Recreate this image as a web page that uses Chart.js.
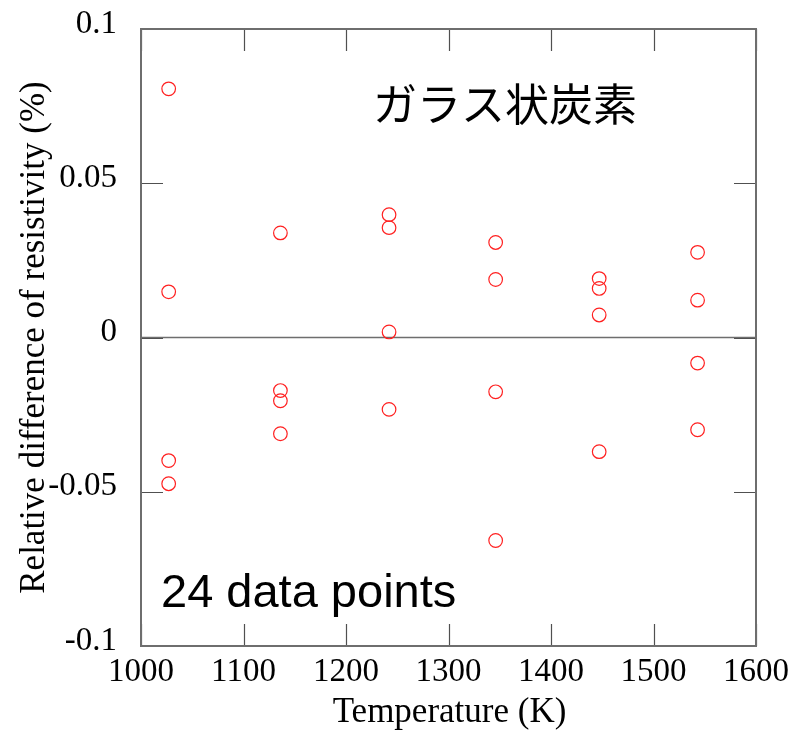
<!DOCTYPE html>
<html>
<head>
<meta charset="utf-8">
<script src="https://cdn.jsdelivr.net/npm/chart.js@4"></script>
<style>
  html, body { margin: 0; padding: 0; background: #ffffff; }
  #wrap { width: 794px; height: 730px; }
</style>
</head>
<body>
<div id="wrap"><canvas id="c" width="794" height="730"></canvas></div>
<script>
// Measurement temperatures (K)
const temperatures = [1027, 1136, 1242, 1346, 1447, 1543];
// Relative difference of resistivity (%) measured at each temperature
const diffAt1027 = [0.0806, 0.0148, -0.0399, -0.0474];
const diffAt1136 = [0.0339, -0.0172, -0.0205, -0.0312];
const diffAt1242 = [0.0398, 0.0356, 0.0018, -0.0233];
const diffAt1346 = [0.0308, 0.0188, -0.0176, -0.0658];
const diffAt1447 = [0.0191, 0.0159, 0.0073, -0.0370];
const diffAt1543 = [0.0276, 0.0121, -0.0083, -0.0299];
// Axis ticks
const xTicks = [1000, 1100, 1200, 1300, 1400, 1500, 1600];
const yTicks = [-0.1, -0.05, 0, 0.05, 0.1];

const materialLabel = 'ガラス状炭素';
const countLabel = '24 data points';
const xTitle = 'Temperature (K)';
const yTitle = 'Relative difference of resistivity (%)';

const groups = [diffAt1027, diffAt1136, diffAt1242, diffAt1346, diffAt1447, diffAt1543];
const points = [];
groups.forEach((vals, i) => vals.forEach(v => points.push({ x: temperatures[i], y: v })));

const SERIF = '"Liberation Serif", "Times New Roman", serif';
const TICK_LEN = 22;

// Frame, inward ticks on all four sides, zero line and text annotations
const decorations = {
  id: 'decorations',
  beforeDatasetsDraw(chart) {
    const { ctx, chartArea: a, scales: { x, y } } = chart;
    ctx.save();
    // zero line
    const y0 = y.getPixelForValue(0);
    ctx.strokeStyle = '#6e6e6e';
    ctx.lineWidth = 1.6;
    ctx.beginPath();
    ctx.moveTo(a.left, y0);
    ctx.lineTo(a.right, y0);
    ctx.stroke();
    // ticks
    ctx.strokeStyle = '#505050';
    ctx.lineWidth = 1.2;
    ctx.beginPath();
    x.ticks.forEach(t => {
      const px = Math.round(x.getPixelForValue(t.value)) + 0.5;
      ctx.moveTo(px, a.bottom); ctx.lineTo(px, a.bottom - TICK_LEN);
      ctx.moveTo(px, a.top); ctx.lineTo(px, a.top + TICK_LEN);
    });
    y.ticks.forEach(t => {
      const py = Math.round(y.getPixelForValue(t.value)) + 0.5;
      ctx.moveTo(a.left, py); ctx.lineTo(a.left + TICK_LEN, py);
      ctx.moveTo(a.right, py); ctx.lineTo(a.right - TICK_LEN, py);
    });
    ctx.stroke();
    // frame
    ctx.strokeStyle = '#6e6e6e';
    ctx.lineWidth = 2;
    ctx.strokeRect(a.left, a.top, a.right - a.left, a.bottom - a.top);
    ctx.restore();
  },
  afterDraw(chart) {
    const { ctx, chartArea: a } = chart;
    ctx.save();
    ctx.fillStyle = '#000000';
    // material name
    ctx.font = '44px "Noto Sans CJK JP", sans-serif';
    ctx.textAlign = 'center';
    ctx.textBaseline = 'middle';
    ctx.fillText(materialLabel, 505, 104);
    // data count
    ctx.font = '47px "Liberation Sans", Arial, sans-serif';
    ctx.textAlign = 'left';
    ctx.textBaseline = 'alphabetic';
    ctx.fillText(countLabel, 161, 607);
    // axis titles
    ctx.font = '35px ' + SERIF;
    ctx.textAlign = 'center';
    ctx.textBaseline = 'alphabetic';
    ctx.fillText(xTitle, (a.left + a.right) / 2 + 1, 722);
    ctx.translate(44, (a.top + a.bottom) / 2);
    ctx.rotate(-Math.PI / 2);
    ctx.fillText(yTitle, 0, 0);
    ctx.restore();
  }
};

new Chart(document.getElementById('c'), {
  type: 'scatter',
  data: {
    datasets: [{
      data: points,
      showLine: false,
      pointStyle: 'circle',
      pointRadius: 6.8,
      pointHoverRadius: 6.8,
      pointBorderWidth: 1.2,
      pointBorderColor: '#ff2020',
      pointBackgroundColor: 'rgba(0,0,0,0)'
    }]
  },
  options: {
    responsive: false,
    devicePixelRatio: 1,
    animation: false,
    events: [],
    layout: { padding: { left: 0, top: 29, right: 38, bottom: 0 } },
    plugins: { legend: { display: false }, tooltip: { enabled: false } },
    scales: {
      x: {
        type: 'linear',
        min: xTicks[0],
        max: xTicks[xTicks.length - 1],
        afterBuildTicks: s => { s.ticks = xTicks.map(v => ({ value: v })); },
        afterFit: s => {
          s.height = 84;
          s.paddingLeft = 0; s.paddingRight = 0;
        },
        grid: { display: false, drawTicks: false },
        border: { display: false },
        ticks: {
          font: { family: SERIF, size: 33 },
          color: '#000000',
          padding: 7,
          maxRotation: 0,
          autoSkip: false,
          callback: v => String(v)
        }
      },
      y: {
        type: 'linear',
        min: yTicks[0],
        max: yTicks[yTicks.length - 1],
        afterBuildTicks: s => { s.ticks = yTicks.map(v => ({ value: v })); },
        afterFit: s => {
          s.width = 141;
          s.paddingTop = 0; s.paddingBottom = 0;
        },
        grid: { display: false, drawTicks: false },
        border: { display: false },
        ticks: {
          font: { family: SERIF, size: 33 },
          color: '#000000',
          padding: 24,
          labelOffset: -5,
          autoSkip: false,
          callback: v => String(Number(v.toFixed(2)))
        }
      }
    }
  },
  plugins: [decorations]
});
</script>
</body>
</html>
